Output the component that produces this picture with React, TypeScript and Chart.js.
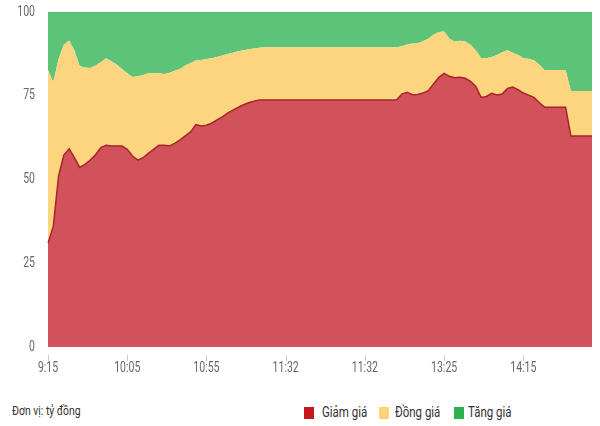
import React, { useEffect, useRef } from 'react';
import { Chart, registerables } from 'chart.js';

Chart.register(...registerables);

const tickLabels = ['9:15', '10:05', '10:55', '11:32', '11:32', '13:25', '14:15'];
const TICK_STEP = 15;
const yTicks = [0, 25, 50, 75, 100];
const seriesNames = ['Giảm giá', 'Đồng giá', 'Tăng giá'];
const unitText = 'Đơn vị: tỷ đồng';

const giamGia = [
  31, 36, 51, 57.3, 59.2, 56.5, 53.6, 54.5, 55.8, 57.4,
  59.5, 60.2, 60, 60, 60, 59, 57, 55.8, 56.5, 57.8,
  59, 60.2, 60.2, 60, 60.8, 61.8, 63, 64.2, 66.4, 66,
  66.2, 66.8, 67.8, 68.7, 69.8, 70.7, 71.5, 72.3, 72.9, 73.4,
  73.7, 73.7, 73.7, 73.7, 73.7, 73.7, 73.7, 73.7, 73.7, 73.7,
  73.7, 73.7, 73.7, 73.7, 73.7, 73.7, 73.7, 73.7, 73.7, 73.7,
  73.7, 73.7, 73.7, 73.7, 73.7, 73.7, 73.7, 75.5, 76, 75.3,
  75.4, 75.8, 76.5, 78.5, 80.5, 81.7, 80.8, 80.4, 80.5, 80.2,
  79.3, 77.8, 74.5, 74.8, 75.7, 75.2, 75.5, 77.2, 77.6, 76.8,
  75.8, 75.2, 74.5, 73, 71.6, 71.6, 71.6, 71.6, 71.6, 63,
  63, 63, 63, 63,
];

const dongGia = [
  51.7, 43, 35, 32.9, 32.3, 32, 30.2, 28.9, 27.5, 26.6,
  25.5, 26, 25.3, 24.3, 23, 22.7, 23.6, 25, 24.7, 23.9,
  22.8, 21.5, 21.3, 21.9, 21.7, 21.2, 21, 20.6, 19.1, 19.7,
  19.8, 19.4, 18.8, 18.3, 17.7, 17.1, 16.8, 16.3, 16, 15.7,
  15.6, 15.8, 15.8, 15.8, 15.8, 15.8, 15.8, 15.8, 15.8, 15.8,
  15.8, 15.8, 15.8, 15.8, 15.8, 15.8, 15.8, 15.8, 15.8, 15.8,
  15.8, 15.8, 15.8, 15.8, 15.8, 15.8, 15.8, 14.3, 14.3, 15.3,
  15.3, 15.5, 15.5, 14.7, 13.5, 12.5, 11.2, 10.7, 10.9, 11,
  10.9, 10.8, 11.8, 11.4, 10.9, 12, 12.5, 11.4, 10.2, 10.4,
  10.5, 10.8, 11.1, 11.3, 11.1, 11.1, 11.1, 11.1, 11.1, 13.4,
  13.4, 13.4, 13.4, 13.4,
];

const tangGia = [
  17.3, 21, 14, 9.8, 8.5, 11.5, 16.2, 16.6, 16.7, 16,
  15, 13.8, 14.7, 15.7, 17, 18.3, 19.4, 19.2, 18.8, 18.3,
  18.2, 18.3, 18.5, 18.1, 17.5, 17, 16, 15.2, 14.5, 14.3,
  14, 13.8, 13.4, 13, 12.5, 12.2, 11.7, 11.4, 11.1, 10.9,
  10.7, 10.5, 10.5, 10.5, 10.5, 10.5, 10.5, 10.5, 10.5, 10.5,
  10.5, 10.5, 10.5, 10.5, 10.5, 10.5, 10.5, 10.5, 10.5, 10.5,
  10.5, 10.5, 10.5, 10.5, 10.5, 10.5, 10.5, 10.2, 9.7, 9.4,
  9.3, 8.7, 8, 6.8, 6, 5.8, 8, 8.9, 8.6, 8.8,
  9.8, 11.4, 13.7, 13.8, 13.4, 12.8, 12, 11.4, 12.2, 12.8,
  13.7, 14, 14.4, 15.7, 17.3, 17.3, 17.3, 17.3, 17.3, 23.6,
  23.6, 23.6, 23.6, 23.6,
];

const FILL_COLORS = ['#d1525b', '#fdd57e', '#5dc379'];
const LEGEND_COLORS = ['#c8161d', '#fcd27a', '#2fb24c'];
const FONT = "Roboto, 'DejaVu Sans', sans-serif";
const SQUEEZE = 0.75;

const axisTextPlugin = {
  id: 'axisText',
  afterDraw(chart: any) {
    const { ctx, chartArea, scales } = chart;
    const xs = scales.x;
    const ys = scales.y;
    ctx.save();
    ctx.font = `14px ${FONT}`;
    ctx.fillStyle = '#666666';
    ctx.textBaseline = 'middle';
    ctx.strokeStyle = '#cccccc';
    ctx.lineWidth = 1;
    xs.ticks.forEach((t: any, i: number) => {
      const px = xs.getPixelForTick(i);
      const gx = Math.round(px) + 0.5;
      ctx.beginPath();
      ctx.moveTo(gx, chartArea.bottom + 8);
      ctx.lineTo(gx, chartArea.bottom + 14);
      ctx.stroke();
      const label = tickLabels[Math.round(t.value / TICK_STEP)] ?? '';
      ctx.save();
      ctx.translate(px, chartArea.bottom + 21);
      ctx.scale(SQUEEZE, 1);
      ctx.textAlign = 'center';
      ctx.fillText(label, 0, 0);
      ctx.restore();
    });
    yTicks.forEach((v) => {
      const py = ys.getPixelForValue(v);
      ctx.save();
      ctx.translate(chartArea.left - 13, py);
      ctx.scale(SQUEEZE, 1);
      ctx.textAlign = 'right';
      ctx.fillText(String(v), 0, 0);
      ctx.restore();
    });
    ctx.restore();
  },
};

export default function App() {
  const ref = useRef<HTMLCanvasElement>(null);

  useEffect(() => {
    const labels = giamGia.map((_, i) => String(i));
    const common = { pointRadius: 0, pointHoverRadius: 0, tension: 0 };
    const chart = new Chart(ref.current!, {
      type: 'line',
      data: {
        labels,
        datasets: [
          { ...common, label: seriesNames[0], data: giamGia, backgroundColor: FILL_COLORS[0], borderColor: '#a8232a', borderWidth: 1.5, fill: 'origin' },
          { ...common, label: seriesNames[1], data: dongGia, backgroundColor: FILL_COLORS[1], borderColor: FILL_COLORS[1], borderWidth: 0, fill: '-1' },
          { ...common, label: seriesNames[2], data: tangGia, backgroundColor: FILL_COLORS[2], borderColor: '#4fae69', borderWidth: 1, fill: '-1' },
        ],
      },
      options: {
        animation: false,
        responsive: false,
        maintainAspectRatio: false,
        layout: { padding: { top: 12, right: 8, left: 0, bottom: 0 } },
        plugins: { legend: { display: false }, tooltip: { enabled: false } },
        scales: {
          x: {
            type: 'category',
            grid: { display: false },
            border: { display: false },
            afterBuildTicks: (s: any) => {
              s.ticks = s.ticks.filter((t: any) => t.value % TICK_STEP === 0);
            },
            ticks: { display: false, autoSkip: false, maxRotation: 0 },
            afterFit: (s: any) => {
              s.height = 38;
            },
          },
          y: {
            stacked: true,
            min: 0,
            max: 100,
            grid: { display: false, drawTicks: false },
            border: { display: false },
            ticks: { display: false },
            afterFit: (s: any) => {
              s.width = 48;
            },
          },
        },
      },
      plugins: [axisTextPlugin],
    });
    return () => chart.destroy();
  }, []);

  const squeezed = (sx: number): React.CSSProperties => ({
    display: 'inline-block',
    transform: `scaleX(${sx})`,
    transformOrigin: 'left center',
    whiteSpace: 'nowrap',
  });

  const boxLeft = [304, 379, 454];
  const textLeft = [322, 395, 468];

  return (
    <div style={{ position: 'absolute', left: 0, top: 0, width: 600, height: 426, background: '#fff', fontFamily: FONT }}>
      <canvas ref={ref} width={600} height={385} style={{ display: 'block', width: 600, height: 385 }} />
      <div style={{ position: 'absolute', left: 12, top: 402, fontSize: 13, color: '#333', lineHeight: '18px' }}>
        <span style={squeezed(0.8)}>{unitText}</span>
      </div>
      {seriesNames.map((n, i) => (
        <React.Fragment key={n}>
          <span style={{ position: 'absolute', left: boxLeft[i], top: 407, width: 10, height: 12, background: LEGEND_COLORS[i] }} />
          <div style={{ position: 'absolute', left: textLeft[i], top: 403, fontSize: 14, color: '#333', lineHeight: '18px' }}>
            <span style={squeezed(0.82)}>{n}</span>
          </div>
        </React.Fragment>
      ))}
    </div>
  );
}
